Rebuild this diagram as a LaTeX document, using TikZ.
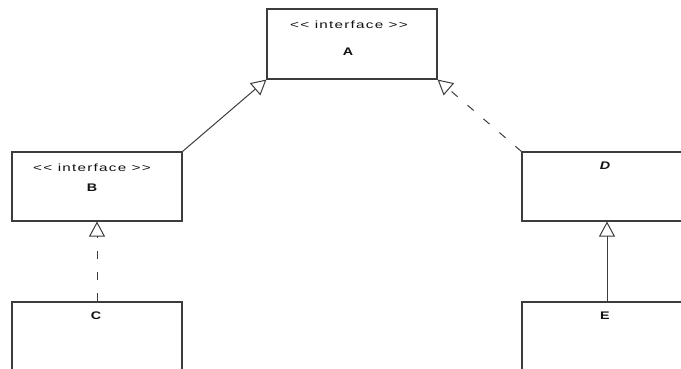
\documentclass[tikz,border=0pt]{standalone}
\usepackage{fontspec}
\usetikzlibrary{positioning,arrows.meta,calc}
\newfontfamily\umlfont[FakeStretch=1.3]{Liberation Sans}
\newfontfamily\stereofont[FakeStretch=1.45,LetterSpace=12]{Liberation Sans}
\definecolor{lineGray}{HTML}{3C3C3C}
\definecolor{textGray}{HTML}{111111}

\begin{document}
\begin{tikzpicture}[
  x=1pt, y=-1pt,
  classBox/.style={rectangle, draw=lineGray, line width=1.1pt, fill=white,
                   minimum width=170pt, minimum height=#1, inner sep=0pt},
  classBox/.default=70pt,
  stereo/.style={anchor=base, text=textGray, inner sep=0pt,
                 font=\stereofont\fontsize{10.5}{12}\selectfont},
  className/.style={anchor=base, text=textGray, inner sep=0pt,
                    font=\umlfont\fontsize{11}{13}\selectfont\bfseries},
  realize/.style={-{Triangle[open, length=15pt, width=16pt]}, draw=lineGray,
                  line width=1pt, dash pattern=on 8pt off 13pt},
  extend/.style={-{Triangle[open, length=15pt, width=16pt]}, draw=lineGray,
                 line width=1pt}
]
\clip (0,0) rectangle (681,369);

% ===== Interfaces =====================================================
\node[classBox] (A) at (352,44) {};
\node[stereo]    (Astereo) at ($(A.north)+(-3,20)$) {<< interface >>};
\node[className] (Aname)   at ($(A.north)+(-4,47)$) {A};

\node[classBox=69pt] (B) at (97,186.5) {};
\node[stereo]    (Bstereo) at ($(B.north)+(-5,20)$) {<< interface >>};
\node[className] (Bname)   at ($(B.north)+(-5,40)$) {B};

% ===== Classes ========================================================
\node[classBox=69pt] (D) at (607,186.5) {};
\node[className] (Dname) at ($(D.north)+(-2,18)$) {\itshape D};

\node[classBox] (C) at (97,337) {};
\node[className] (Cname) at ($(C.north)+(-1,18)$) {C};

\node[classBox] (E) at (607,337) {};
\node[className] (Ename) at ($(E.north)+(-2,18)$) {E};

% ===== Arrows =====
\draw[extend]  (B.north east) -- (A.south west);
\draw[realize] (D.north west) -- (A.south east);
\draw[realize] (C.north) -- (B.south);
\draw[extend]  (E.north) -- (D.south);

\end{tikzpicture}
\end{document}
